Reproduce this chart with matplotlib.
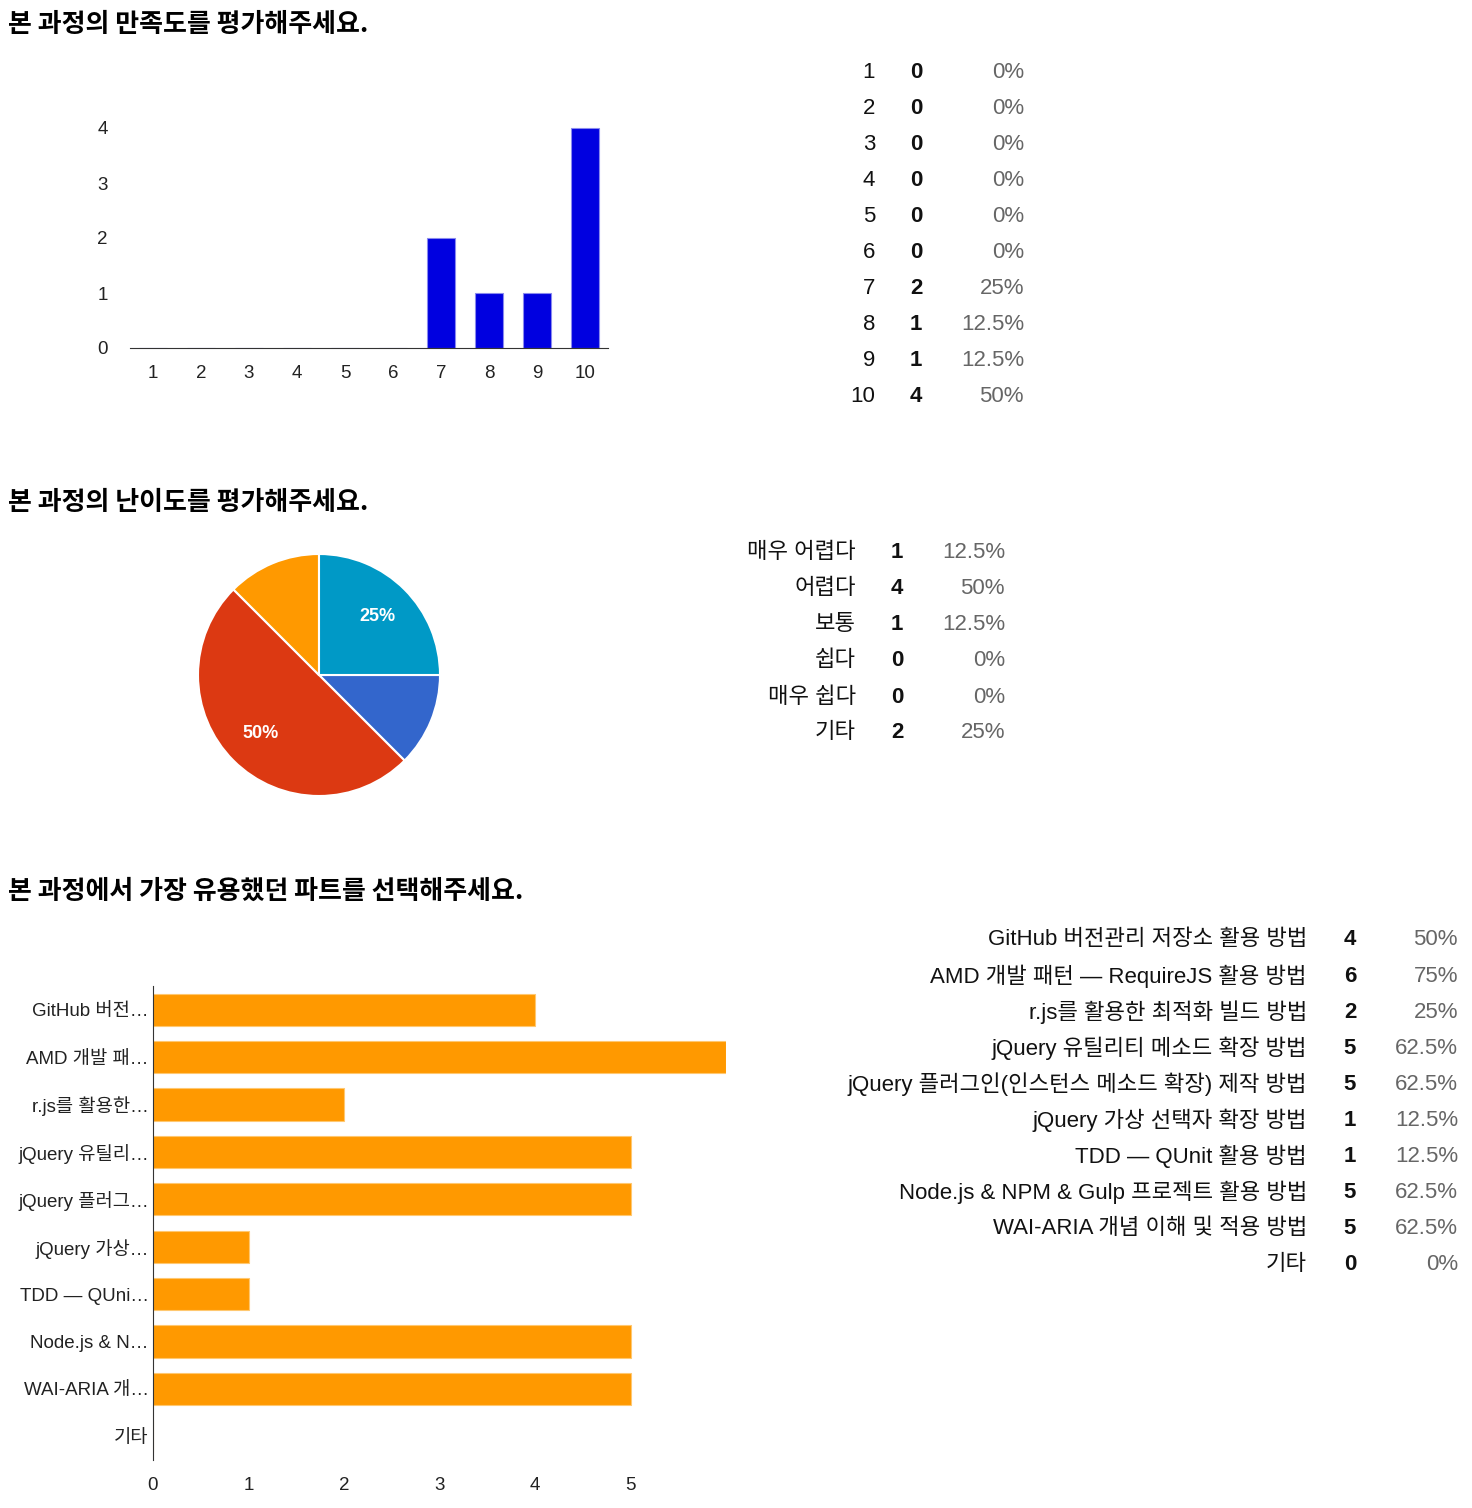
import matplotlib
matplotlib.use("Agg")
import matplotlib.pyplot as plt

plt.rcParams['font.family'] = ['Liberation Sans', 'Noto Sans CJK KR', 'DejaVu Sans']

# ---------------- data ----------------
respondents = 8

q1_title = "본 과정의 만족도를 평가해주세요."
q1_scores = [1, 2, 3, 4, 5, 6, 7, 8, 9, 10]
q1_counts = [0, 0, 0, 0, 0, 0, 2, 1, 1, 4]
q1_yticks = [0, 1, 2, 3, 4]

q2_title = "본 과정의 난이도를 평가해주세요."
q2_labels = ["매우 어렵다", "어렵다", "보통", "쉽다", "매우 쉽다", "기타"]
q2_counts = [1, 4, 1, 0, 0, 2]
q2_colors = ['#3366CC', '#DC3912', '#FF9900', '#109618', '#990099', '#0099C6']

q3_title = "본 과정에서 가장 유용했던 파트를 선택해주세요."
q3_labels = ["GitHub 버전관리 저장소 활용 방법",
             "AMD 개발 패턴 — RequireJS 활용 방법",
             "r.js를 활용한 최적화 빌드 방법",
             "jQuery 유틸리티 메소드 확장 방법",
             "jQuery 플러그인(인스턴스 메소드 확장) 제작 방법",
             "jQuery 가상 선택자 확장 방법",
             "TDD — QUnit 활용 방법",
             "Node.js & NPM & Gulp 프로젝트 활용 방법",
             "WAI-ARIA 개념 이해 및 적용 방법",
             "기타"]
q3_ticklabels = ["GitHub 버전…", "AMD 개발 패…", "r.js를 활용한…", "jQuery 유틸리…",
                 "jQuery 플러그…", "jQuery 가상…", "TDD — QUni…", "Node.js & N…",
                 "WAI-ARIA 개…", "기타"]
q3_counts = [4, 6, 2, 5, 5, 1, 1, 5, 5, 0]
q3_xticks = [0, 1, 2, 3, 4, 5]


def pct(c):
    return f"{c / respondents * 100:g}%"


# ---------------- figure ----------------
W, H = 1472, 1508
fig = plt.figure(figsize=(W / 100, H / 100), dpi=100)
fig.patch.set_facecolor('white')


def fx(x):
    return x / W


def fy(y):
    return 1 - y / H


TXT = '#222222'
PCT = '#666666'
TITLE_FONT = ['Noto Sans CJK KR', 'Liberation Sans']


def title(y, s):
    fig.text(fx(8), fy(y), s, fontsize=18.7, fontweight='bold', va='center',
             ha='left', color='black', family=TITLE_FONT)


def table(rows, counts, y0, x_label, x_count, x_pct, fs=16):
    for i, (lab, c) in enumerate(zip(rows, counts)):
        y = fy(y0 + 36 * i + 1)
        fig.text(fx(x_label), y, str(lab), ha='right', va='center', fontsize=fs, color='#111111')
        fig.text(fx(x_count), y, str(c), ha='center', va='center', fontsize=fs,
                 fontweight='bold', color='#111111')
        fig.text(fx(x_pct), y, pct(c), ha='right', va='center', fontsize=fs, color=PCT)


# ---- Q1 ----
title(24, q1_title)
top_px, base_px = 128, 348
ymax = 4.1
h_px = (base_px - top_px) * ymax / 4
ax1 = fig.add_axes([fx(130), fy(base_px), (608 - 130) / W, h_px / H])
ax1.bar(q1_scores, q1_counts, width=0.6, color='#0000E0', edgecolor='#8a8aee', linewidth=0.8)
ax1.set_xlim(0.52, 10.48)
ax1.set_ylim(0, ymax)
ax1.set_xticks(q1_scores)
ax1.set_xticklabels([str(s) for s in q1_scores])
ax1.set_yticks(q1_yticks)
for sp in ['top', 'right', 'left']:
    ax1.spines[sp].set_visible(False)
ax1.spines['bottom'].set_color('#333333')
ax1.tick_params(axis='x', length=0, pad=12, labelsize=13.5, labelcolor=TXT)
ax1.tick_params(axis='y', length=0, pad=16, labelsize=13.5, labelcolor=TXT)
table(q1_scores, q1_counts, 72, 875, 916, 1024)

# ---- Q2 ----
title(502, q2_title)
cx, cy, r = 319, 675, 121
ax2 = fig.add_axes([fx(cx - r), fy(cy + r), 2 * r / W, 2 * r / H])
nz = [(c, col) for c, col in zip(q2_counts, q2_colors) if c > 0]
vals = [v for v, _ in nz]
cols = [col for _, col in nz]
wedges, texts, autotexts = ax2.pie(
    vals, colors=cols, startangle=0, counterclock=False, radius=1,
    wedgeprops=dict(edgecolor='white', linewidth=1.5),
    autopct=lambda p: f"{p:.0f}%" if p >= 20 else '', pctdistance=0.68,
    textprops=dict(color='white', fontsize=13, fontweight='bold'))
ax2.set_xlim(-1.0, 1.0)
ax2.set_ylim(-1.0, 1.0)
ax2.set_aspect('equal')
ax2.axis('off')
table(q2_labels, q2_counts, 552, 856, 897, 1005)

# ---- Q3 ----
title(891, q3_title)
ax3 = fig.add_axes([fx(153), fy(1460), (726 - 153) / W, (1460 - 986) / H])
ypos = list(range(len(q3_counts)))
ax3.barh(ypos, q3_counts, height=0.68, color='#FF9900', edgecolor='#ffc870', linewidth=0.8)
ax3.set_xlim(0, 6)
ax3.set_ylim(len(q3_counts) - 0.5, -0.5)
ax3.set_yticks(ypos)
ax3.set_yticklabels(q3_ticklabels)
ax3.set_xticks(q3_xticks)
for sp in ['top', 'right', 'bottom']:
    ax3.spines[sp].set_visible(False)
ax3.spines['left'].set_color('#333333')
ax3.tick_params(axis='y', length=0, pad=3, labelsize=13.5, labelcolor=TXT)
ax3.tick_params(axis='x', length=0, pad=12, labelsize=13.5, labelcolor=TXT)
table(q3_labels, q3_counts, 939, 1307, 1350, 1458)

fig.savefig('out.png', dpi=100, facecolor='white')
